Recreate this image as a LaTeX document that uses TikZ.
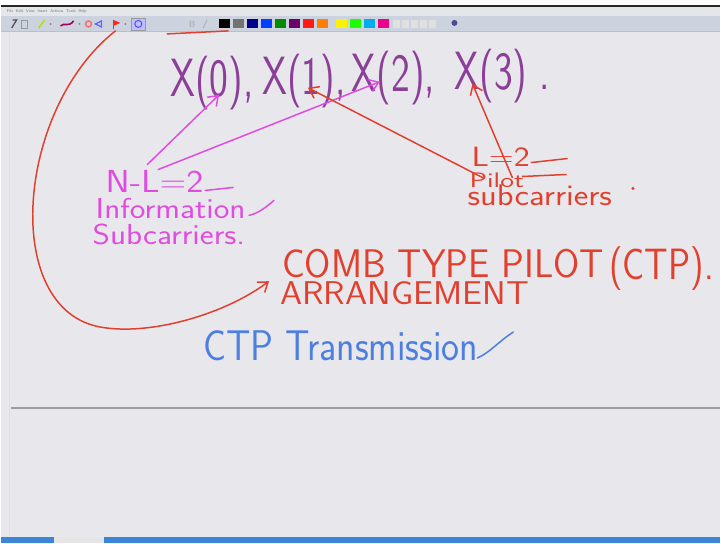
\documentclass[tikz,border=0pt]{standalone}
\usepackage{fontspec}
\usetikzlibrary{arrows.meta}
\definecolor{board}{HTML}{E8E8EC}
\definecolor{menubg}{HTML}{E4E6EA}
\definecolor{toolbg}{HTML}{CDD3DE}
\definecolor{inkpurple}{HTML}{8C3F98}
\definecolor{inkmag}{HTML}{E04CE0}
\definecolor{inkred}{HTML}{E2402F}
\definecolor{inkblue}{HTML}{4D7FE0}
\definecolor{taskbar}{HTML}{3C84D8}
\newcommand{\inksz}[1]{\fontsize{#1}{#1}\selectfont}
\tikzset{
  hand/.style={inner sep=0pt, anchor=base west, font=\sffamily},
  purpink/.style={hand, text=inkpurple},
  magink/.style={hand, text=inkmag},
  redink/.style={hand, text=inkred},
  blueink/.style={hand, text=inkblue},
  stroke/.style={line width=1.5pt, line cap=round, line join=round},
  barb/.style={-{Straight Barb[length=9pt,width=13pt]}},
  swatch/.style={minimum width=11pt, minimum height=9pt, inner sep=0pt, draw=none, anchor=north west},
}
\begin{document}
\begin{tikzpicture}[x=1pt,y=-1pt]
% page and whiteboard
\fill[board] (0,0) rectangle (721,545);
\fill[white] (0,0) rectangle (721,5);
\fill[black!85] (0,5) rectangle (721,7.5);
% menu bar
\fill[menubg] (0,7.5) rectangle (721,16);
\node[anchor=west, inner sep=0pt, text=black!55, font=\sffamily\fontsize{4}{4}\selectfont] (menu) at (6,12) {File\ \ Edit\ \ View\ \ Insert\ \ Actions\ \ Tools\ \ Help};
% tool bar
\fill[toolbg] (0,16) rectangle (721,32);
\fill[black!25] (0,31.5) rectangle (721,32.5);
\draw[black!70, line width=1.2pt] (11,28) -- (16,20) -- (12,20);
\draw[black!40, line width=0.8pt] (21,20) rectangle (27,28);
\draw[yellow!70!green, line width=1.6pt] (38,28) -- (44,20);
\fill[black!50] (50,24) circle (1pt);
\draw[violet!70!red, line width=1.6pt] (60,26) .. controls (64,22) and (68,28) .. (73,21);
\fill[black!50] (79,24) circle (1pt);
\draw[red!60, line width=1.4pt] (88,24) circle (3pt);
\draw[blue!60, line width=1.4pt] (95,24) -- (101,21) -- (101,27) -- cycle;
\draw[red!85, line width=1.2pt] (113,29) -- (113,20);
\fill[red!85] (113,20) -- (120,23) -- (113,26) -- cycle;
\fill[black!50] (125,24) circle (1pt);
\draw[black!40, fill=blue!25, line width=0.8pt] (131,18) rectangle (145,30);
\draw[blue!70, line width=1pt] (138,24) circle (3.5pt);
\node[inner sep=0pt, text=black!30, font=\sffamily\bfseries\fontsize{9}{9}\selectfont] (bold) at (192,24) {B};
\draw[black!30, line width=1pt] (203,28) -- (207,20);
% colour pens
\node[swatch, fill=black]          (p1)  at (219,19) {};
\node[swatch, fill=black!55]       (p2)  at (233,19) {};
\node[swatch, fill=blue!55!black]  (p3)  at (247,19) {};
\node[swatch, fill=blue!75!cyan]   (p4)  at (261,19) {};
\node[swatch, fill=green!55!black] (p5)  at (275,19) {};
\node[swatch, fill=violet!85!black](p6)  at (289,19) {};
\node[swatch, fill=red!90]         (p7)  at (303,19) {};
\node[swatch, fill=orange]         (p8)  at (317,19) {};
\node[swatch, fill=yellow]         (p9)  at (336,19) {};
\node[swatch, fill=green!85!lime]  (p10) at (350,19) {};
\node[swatch, fill=cyan]           (p11) at (364,19) {};
\node[swatch, fill=magenta]        (p12) at (378,19) {};
\foreach \i in {0,...,4} \fill[black!12] (393+\i*9,20) rectangle (400+\i*9,28);
\fill[blue!40!black!70] (455,23) circle (3pt);
% left edge of the board, rule and task bar
\draw[black!12, line width=1.5pt] (9,33) -- (9,538);
\draw[black!38, line width=2.6pt] (10,409) -- (721,409);
\fill[taskbar] (0,539) rectangle (721,545);
\fill[black!10] (53,539) rectangle (104,545);

% the four symbols
\node[purpink] (x0) at (170,97) {\inksz{54}\scalebox{0.74}[1]{X(0),}};
\node[purpink] (x1) at (262,95) {\inksz{54}\scalebox{0.74}[1]{X(1),}};
\node[purpink] (x2) at (352,92) {\inksz{54}\scalebox{0.74}[1]{X(2),}};
\node[purpink] (x3) at (455,90) {\inksz{54}\scalebox{0.74}[1]{X(3)\ .}};

% information subcarriers
\node[magink] (nl)   at (105,193) {\inksz{32}\scalebox{1.14}[1]{N-L=2}};
\node[magink] (info) at (95,219)  {\inksz{29}\scalebox{1.15}[1]{Information}};
\node[magink] (subi) at (92,245)  {\inksz{29}\scalebox{1.15}[1]{Subcarriers.}};
\draw[stroke, inkmag] (205,191) -- (233,188);
\draw[stroke, inkmag] (249,216) .. controls (258,214) and (266,208) .. (274,201);
\coordinate (m0) at (147,165);
\coordinate (m1) at (158,170);
\coordinate (t0) at (219,95);
\coordinate (t2) at (380,82);
\draw[stroke, inkmag, barb] (m0) -- (t0);
\draw[stroke, inkmag, barb] (m1) -- (t2);

% pilot subcarriers
\node[redink] (lp)   at (472,167) {\inksz{28}\scalebox{1.22}[1]{L=2}};
\node[redink] (pil)  at (470,188) {\inksz{21}\scalebox{1.4}[1]{Pilot}};
\node[redink] (subp) at (468,206) {\inksz{30}\scalebox{1.16}[1]{subcarriers}};
\node[circle, fill=inkred, inner sep=1.2pt] (dot) at (634,189) {};
\draw[stroke, inkred] (532,163) -- (568,159);
\draw[stroke, inkred] (523,177) -- (567,175);
\coordinate (r1) at (483,178);
\coordinate (r3) at (513,178);
\coordinate (t1) at (308,88);
\coordinate (t3) at (473,84);
\draw[stroke, inkred, barb] (r1) -- (t1);
\draw[stroke, inkred, barb] (r3) -- (t3);

% comb type pilot arrangement
\node[redink] (comb) at (282,278) {\inksz{40}\scalebox{0.95}[1]{COMB TYPE PILOT}};
\node[redink] (ctp)  at (610,280) {\inksz{44}\scalebox{0.84}[1]{(CTP).}};
\node[redink] (arr)  at (280,305) {\inksz{33}\scalebox{1.08}[1]{ARRANGEMENT}};
\draw[stroke, inkred] (167,34) -- (228,31);
\coordinate (ctop) at (115,31);
\coordinate (cbot) at (100,328);
\coordinate (ctip) at (269,282);
\draw[stroke, inkred, barb] (ctop) .. controls (15,110) and (0,310) .. (cbot)
  .. controls (150,337) and (225,315) .. (ctip);

% transmission
\node[blueink] (tx) at (203,362) {\inksz{43}\scalebox{0.89}[1]{CTP Transmission}};
\draw[stroke, inkblue] (478,359) .. controls (490,354) and (501,341) .. (514,333);
\end{tikzpicture}
\end{document}
